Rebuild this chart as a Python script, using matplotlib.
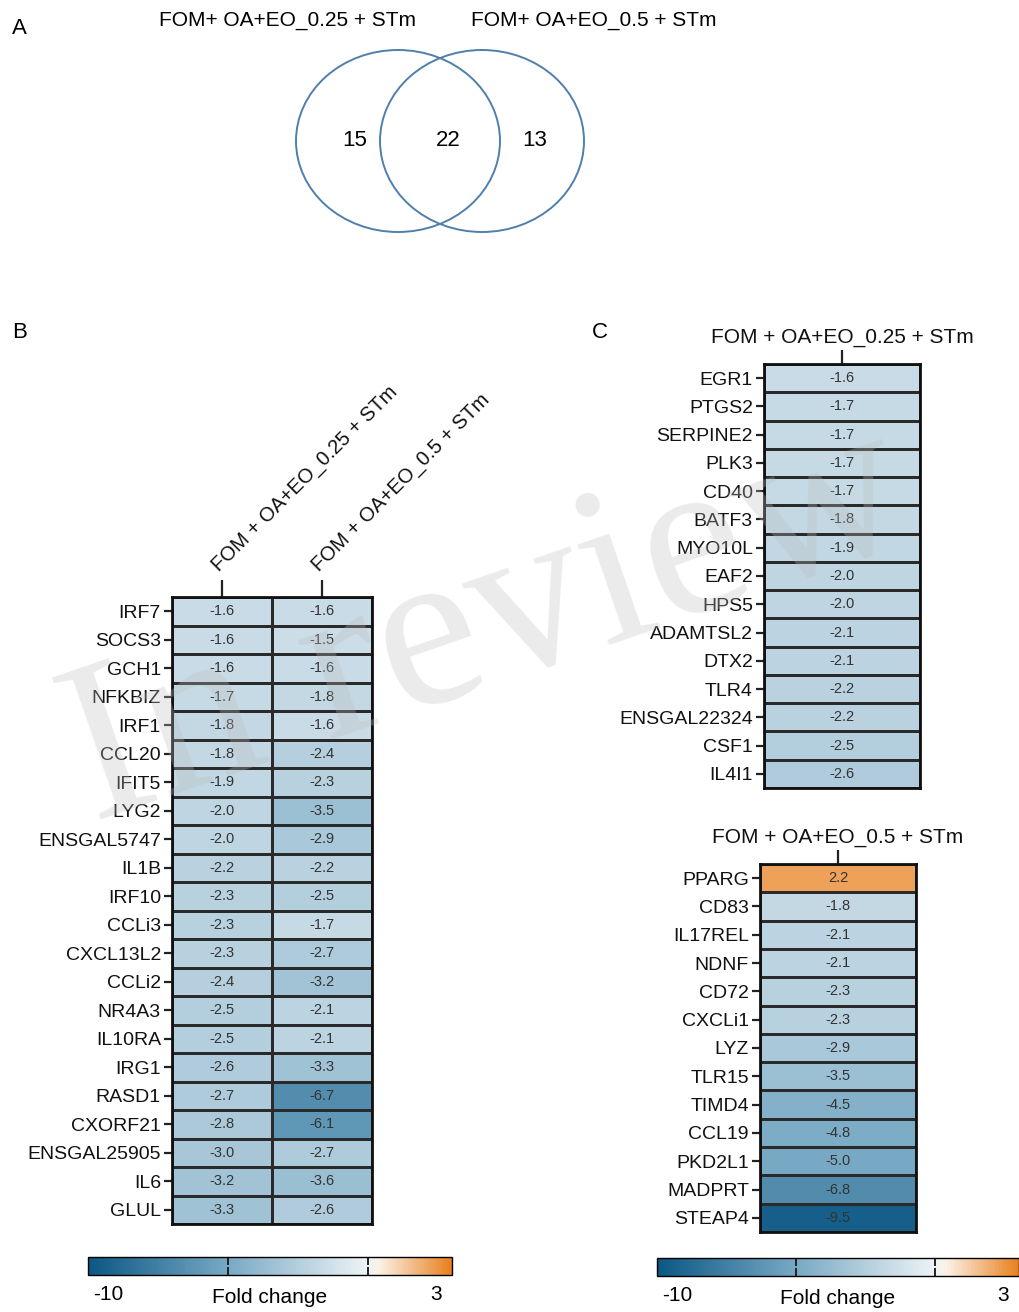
import numpy as np
import matplotlib
matplotlib.use("Agg")
import matplotlib.pyplot as plt
from matplotlib.colors import LinearSegmentedColormap, Normalize
from matplotlib.patches import Ellipse
import matplotlib.cm as cm

plt.rcParams['font.family'] = ['Liberation Sans', 'DejaVu Sans']

# ---- data ----
venn_labels = ["FOM+ OA+EO_0.25 + STm", "FOM+ OA+EO_0.5 + STm"]
venn_counts = [15, 22, 13]

cond_labels = ["FOM + OA+EO_0.25 + STm", "FOM + OA+EO_0.5 + STm"]

genes_b = ['IRF7', 'SOCS3', 'GCH1', 'NFKBIZ', 'IRF1', 'CCL20', 'IFIT5', 'LYG2',
           'ENSGAL5747', 'IL1B', 'IRF10', 'CCLi3', 'CXCL13L2', 'CCLi2', 'NR4A3',
           'IL10RA', 'IRG1', 'RASD1', 'CXORF21', 'ENSGAL25905', 'IL6', 'GLUL']
fc_b_025 = [-1.6, -1.6, -1.6, -1.7, -1.8, -1.8, -1.9, -2.0, -2.0, -2.2, -2.3,
            -2.3, -2.3, -2.4, -2.5, -2.5, -2.6, -2.7, -2.8, -3.0, -3.2, -3.3]
fc_b_05 = [-1.6, -1.5, -1.6, -1.8, -1.6, -2.4, -2.3, -3.5, -2.9, -2.2, -2.5,
           -1.7, -2.7, -3.2, -2.1, -2.1, -3.3, -6.7, -6.1, -2.7, -3.6, -2.6]

genes_c1 = ['EGR1', 'PTGS2', 'SERPINE2', 'PLK3', 'CD40', 'BATF3', 'MYO10L', 'EAF2',
            'HPS5', 'ADAMTSL2', 'DTX2', 'TLR4', 'ENSGAL22324', 'CSF1', 'IL4I1']
fc_c1 = [-1.6, -1.7, -1.7, -1.7, -1.7, -1.8, -1.9, -2.0, -2.0, -2.1, -2.1, -2.2,
         -2.2, -2.5, -2.6]

genes_c2 = ['PPARG', 'CD83', 'IL17REL', 'NDNF', 'CD72', 'CXCLi1', 'LYZ', 'TLR15',
            'TIMD4', 'CCL19', 'PKD2L1', 'MADPRT', 'STEAP4']
fc_c2 = [2.2, -1.8, -2.1, -2.1, -2.3, -2.3, -2.9, -3.5, -4.5, -4.8, -5.0, -6.8, -9.5]

vmin, vmax = -10, 3
cmap = LinearSegmentedColormap.from_list(
    "fc", [(0.0, '#0b5784'), (5 / 13, '#78a9c4'), (10 / 13, '#eef3f6'),
           (10.4 / 13, '#fbf1e6'), (1.0, '#e8801e')])
norm = Normalize(vmin=vmin, vmax=vmax)

W, H = 1019, 1312
fig = plt.figure(figsize=(W / 100, H / 100), dpi=100)


def px(x0, y0, x1, y1):
    return [x0 / W, 1 - y1 / H, (x1 - x0) / W, (y1 - y0) / H]


# ---- panel letters ----
fig.text(12 / W, 1 - 28 / H, "A", fontsize=16, va='center')
fig.text(12 / W, 1 - 333 / H, "B", fontsize=16, va='center')
fig.text(592 / W, 1 - 333 / H, "C", fontsize=16, va='center')

# ---- A: venn ----
ax_v = fig.add_axes(px(0, 0, W, 260))
ax_v.set_xlim(0, W)
ax_v.set_ylim(260, 0)
ax_v.axis('off')
ax_v.add_patch(Ellipse((398, 141), 204, 182, fill=False, ec='#4f7fad', lw=1.4))
ax_v.add_patch(Ellipse((482, 141), 204, 182, fill=False, ec='#4f7fad', lw=1.4))
ax_v.text(288, 20, venn_labels[0], ha='center', va='center', fontsize=15)
ax_v.text(594, 20, venn_labels[1], ha='center', va='center', fontsize=15)
for xx, n in zip([355, 448, 535], venn_counts):
    ax_v.text(xx, 141, str(n), ha='center', va='center', fontsize=16)


def heat(ax, vals, genes):
    vals = np.asarray(vals, dtype=float)
    if vals.ndim == 1:
        vals = vals[:, None]
    nr, nc = vals.shape
    ax.pcolormesh(np.arange(nc + 1), np.arange(nr + 1), vals, cmap=cmap, norm=norm,
                  edgecolors='#2a2a2a', linewidth=0.9)
    ax.set_xlim(0, nc)
    ax.set_ylim(nr, 0)
    for i in range(nr):
        for j in range(nc):
            ax.text(j + 0.5, i + 0.5, f"{vals[i, j]:.1f}", ha='center', va='center',
                    fontsize=10.5, color='#333333')
    ax.set_yticks(np.arange(nr) + 0.5)
    ax.set_yticklabels(genes, fontsize=14)
    ax.tick_params(axis='y', length=6, width=1.6, pad=2, colors='#222222',
                   labelcolor='#111111')
    for s in ax.spines.values():
        s.set_linewidth(2)
        s.set_color('#111111')
    return nc


# ---- B ----
ax_b = fig.add_axes(px(172, 597, 372, 1224))
heat(ax_b, np.column_stack([fc_b_025, fc_b_05]), genes_b)
ax_b.xaxis.tick_top()
ax_b.set_xticks([0.5, 1.5])
ax_b.set_xticklabels(cond_labels, rotation=45, ha='left', va='bottom',
                     rotation_mode='anchor', fontsize=14.5)
ax_b.tick_params(axis='x', length=12, width=1.6, pad=4, colors='#222222',
                 labelcolor='#111111')

# ---- C top ----
ax_c1 = fig.add_axes(px(764, 364, 920, 788))
heat(ax_c1, fc_c1, genes_c1)
ax_c1.xaxis.tick_top()
ax_c1.set_xticks([0.5])
ax_c1.set_xticklabels([cond_labels[0]], fontsize=15)
ax_c1.tick_params(axis='x', length=10, width=1.6, pad=2, colors='#222222',
                  labelcolor='#111111')

# ---- C bottom ----
ax_c2 = fig.add_axes(px(760, 864, 916, 1232))
heat(ax_c2, fc_c2, genes_c2)
ax_c2.xaxis.tick_top()
ax_c2.set_xticks([0.5])
ax_c2.set_xticklabels([cond_labels[1]], fontsize=15)
ax_c2.tick_params(axis='x', length=10, width=1.6, pad=2, colors='#222222',
                  labelcolor='#111111')


# ---- colorbars ----
def cbar(rect):
    cax = fig.add_axes(px(*rect))
    cb = fig.colorbar(cm.ScalarMappable(norm=norm, cmap=cmap), cax=cax,
                      orientation='horizontal')
    cb.set_ticks([-5, 0])
    cb.set_ticklabels(['', ''])
    cax.tick_params(axis='x', direction='in', length=6, width=1.4, top=True,
                    colors='#222222')
    cb.outline.set_linewidth(1.0)
    cax.text(0.055, -1.1, "-10", transform=cax.transAxes, ha='center', va='center',
             fontsize=15)
    cax.text(0.5, -1.25, "Fold change", transform=cax.transAxes, ha='center',
             va='center', fontsize=15)
    cax.text(0.955, -1.1, "3", transform=cax.transAxes, ha='center', va='center',
             fontsize=15)


cbar((88, 1257, 452, 1275))
cbar((657, 1258, 1019, 1276))

# ---- watermark ----
fig.text(488 / W, 1 - 628 / H, "In review", fontsize=165, family='Liberation Serif',
         color='#bdbdbd', alpha=0.3, rotation=19, ha='center', va='center', zorder=10)

fig.savefig("out.png", dpi=100)
